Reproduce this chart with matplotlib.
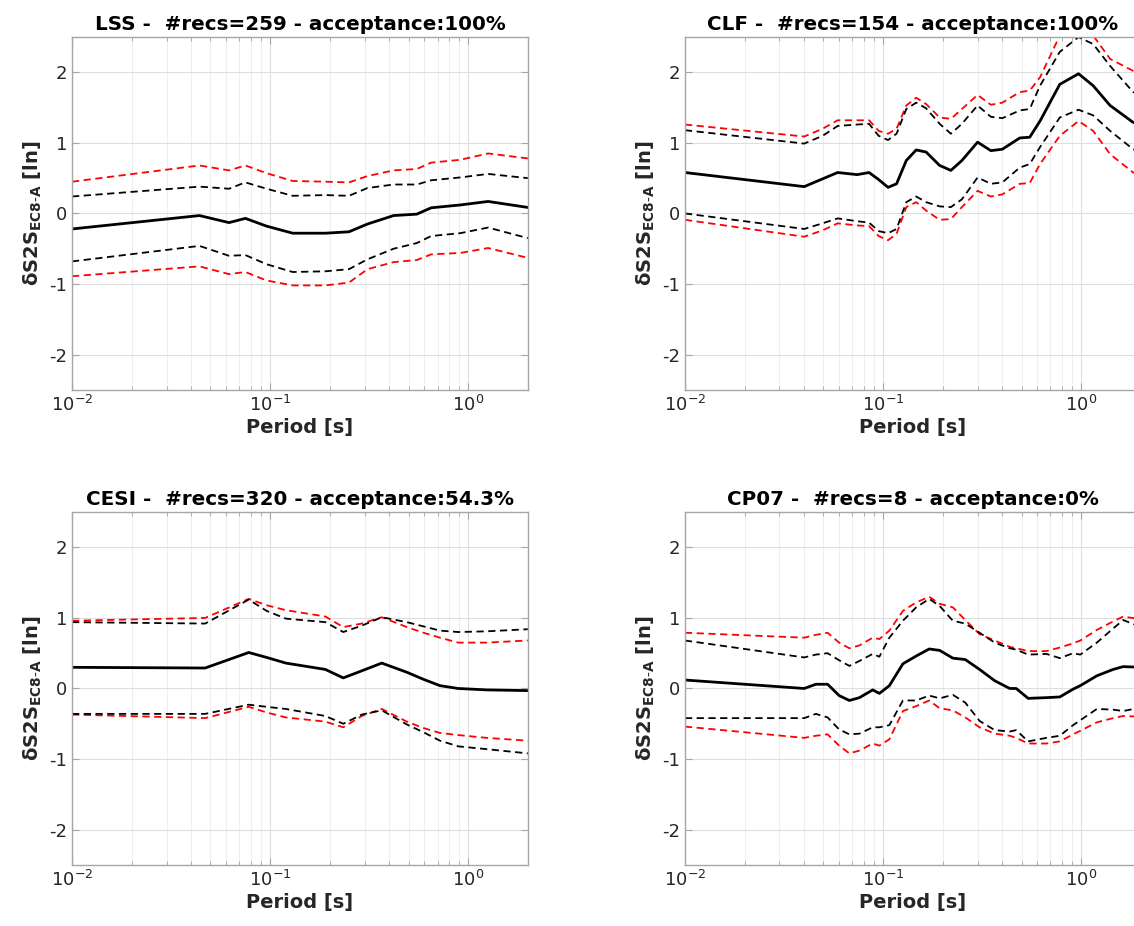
import numpy as np
import matplotlib
matplotlib.use("Agg")
import matplotlib.pyplot as plt
from matplotlib.ticker import LogLocator, NullFormatter

plt.rcParams["axes.unicode_minus"] = False

# ---- data ----
lss_T = [0.01, 0.044, 0.062, 0.075, 0.096, 0.13, 0.19, 0.25, 0.31, 0.42, 0.55, 0.65, 0.91, 1.26, 2.0]
lss_mean = [-0.22, -0.03, -0.13, -0.07, -0.18, -0.28, -0.28, -0.26, -0.15, -0.03, -0.01, 0.08, 0.12, 0.17, 0.085]
lss_up_k = [0.24, 0.38, 0.35, 0.44, 0.35, 0.25, 0.26, 0.25, 0.36, 0.41, 0.41, 0.47, 0.51, 0.56, 0.50]
lss_up_r = [0.45, 0.68, 0.61, 0.68, 0.57, 0.46, 0.45, 0.44, 0.53, 0.61, 0.63, 0.72, 0.76, 0.85, 0.78]
lss_lo_k = [-0.68, -0.46, -0.60, -0.59, -0.72, -0.83, -0.82, -0.79, -0.65, -0.50, -0.42, -0.32, -0.28, -0.20, -0.35]
lss_lo_r = [-0.89, -0.75, -0.86, -0.83, -0.95, -1.02, -1.02, -0.98, -0.79, -0.69, -0.66, -0.58, -0.56, -0.49, -0.63]

clf_T = [0.01, 0.04, 0.0495, 0.059, 0.074, 0.085, 0.095, 0.106, 0.117, 0.131, 0.147, 0.165, 0.193, 0.22,
         0.25, 0.30, 0.35, 0.40, 0.49, 0.55, 0.62, 0.78, 0.97, 1.15, 1.4, 1.83, 2.0]
clf_mean = [0.58, 0.38, 0.49, 0.58, 0.55, 0.58, 0.48, 0.37, 0.42, 0.75, 0.90, 0.87, 0.68, 0.61,
            0.75, 1.01, 0.89, 0.91, 1.07, 1.08, 1.31, 1.83, 1.98, 1.81, 1.53, 1.29, 1.27]
clf_up_k = [1.18, 0.99, 1.10, 1.24, 1.26, 1.27, 1.10, 1.04, 1.13, 1.48, 1.57, 1.49, 1.27, 1.13,
            1.27, 1.53, 1.37, 1.35, 1.46, 1.48, 1.81, 2.29, 2.50, 2.40, 2.09, 1.72, 1.68]
clf_up_r = [1.26, 1.09, 1.20, 1.32, 1.32, 1.32, 1.17, 1.13, 1.20, 1.53, 1.64, 1.55, 1.36, 1.34,
            1.48, 1.68, 1.54, 1.57, 1.72, 1.74, 1.93, 2.52, 2.72, 2.52, 2.19, 2.02, 1.98]
clf_lo_k = [0.0, -0.22, -0.14, -0.07, -0.11, -0.13, -0.25, -0.28, -0.22, 0.16, 0.24, 0.16, 0.10, 0.09,
            0.20, 0.51, 0.42, 0.44, 0.65, 0.70, 0.94, 1.36, 1.47, 1.39, 1.17, 0.91, 0.87]
clf_lo_r = [-0.09, -0.33, -0.24, -0.14, -0.17, -0.18, -0.32, -0.38, -0.29, 0.09, 0.16, 0.04, -0.09, -0.08,
            0.09, 0.32, 0.24, 0.27, 0.42, 0.43, 0.70, 1.10, 1.31, 1.17, 0.84, 0.58, 0.56]

cesi_T = [0.01, 0.047, 0.078, 0.096, 0.12, 0.19, 0.234, 0.29, 0.366, 0.49, 0.594, 0.72, 0.89, 1.24, 2.0]
cesi_mean = [0.30, 0.29, 0.51, 0.44, 0.36, 0.27, 0.15, 0.25, 0.36, 0.23, 0.13, 0.04, 0.0, -0.02, -0.03]
cesi_up_k = [0.94, 0.92, 1.26, 1.10, 0.99, 0.94, 0.80, 0.89, 1.01, 0.94, 0.88, 0.82, 0.80, 0.81, 0.84]
cesi_up_r = [0.96, 1.00, 1.27, 1.18, 1.11, 1.02, 0.87, 0.92, 1.01, 0.87, 0.79, 0.72, 0.65, 0.65, 0.68]
cesi_lo_k = [-0.36, -0.36, -0.23, -0.26, -0.29, -0.39, -0.50, -0.37, -0.31, -0.51, -0.62, -0.74, -0.82, -0.86, -0.92]
cesi_lo_r = [-0.37, -0.42, -0.26, -0.34, -0.41, -0.47, -0.55, -0.39, -0.29, -0.47, -0.56, -0.63, -0.66, -0.70, -0.74]

cp07_T = [0.01, 0.04, 0.0458, 0.0525, 0.060, 0.0676, 0.076, 0.0887, 0.0958, 0.1076, 0.126, 0.147, 0.171,
          0.193, 0.225, 0.26, 0.307, 0.366, 0.436, 0.47, 0.54, 0.668, 0.78, 0.91, 0.99, 1.2, 1.45, 1.63, 2.0]
cp07_mean = [0.12, 0.0, 0.06, 0.06, -0.10, -0.17, -0.13, -0.02, -0.07, 0.04, 0.35, 0.46, 0.56,
             0.54, 0.43, 0.41, 0.27, 0.11, 0.0, 0.0, -0.14, -0.13, -0.12, -0.01, 0.04, 0.18, 0.27, 0.31, 0.30]
cp07_up_k = [0.68, 0.44, 0.48, 0.50, 0.40, 0.32, 0.39, 0.49, 0.45, 0.72, 0.96, 1.15, 1.27,
             1.17, 0.96, 0.92, 0.79, 0.65, 0.57, 0.55, 0.48, 0.49, 0.43, 0.50, 0.48, 0.65, 0.85, 0.97, 0.87]
cp07_up_r = [0.79, 0.72, 0.76, 0.79, 0.65, 0.57, 0.61, 0.72, 0.70, 0.82, 1.10, 1.22, 1.30,
             1.20, 1.15, 0.97, 0.77, 0.68, 0.59, 0.57, 0.53, 0.53, 0.58, 0.64, 0.68, 0.83, 0.95, 1.02, 0.98]
cp07_lo_k = [-0.42, -0.42, -0.36, -0.41, -0.58, -0.65, -0.64, -0.55, -0.55, -0.52, -0.17, -0.17, -0.10,
             -0.14, -0.09, -0.20, -0.46, -0.59, -0.61, -0.59, -0.75, -0.70, -0.67, -0.52, -0.45, -0.29, -0.30, -0.32, -0.27]
cp07_lo_r = [-0.54, -0.70, -0.67, -0.65, -0.81, -0.92, -0.88, -0.78, -0.81, -0.72, -0.32, -0.25, -0.17,
             -0.28, -0.31, -0.41, -0.55, -0.64, -0.67, -0.70, -0.78, -0.78, -0.75, -0.65, -0.60, -0.48, -0.42, -0.39, -0.40]

titles = ["LSS -  #recs=259 - acceptance:100%",
          "CLF -  #recs=154 - acceptance:100%",
          "CESI -  #recs=320 - acceptance:54.3%",
          "CP07 -  #recs=8 - acceptance:0%"]

stations = [
    (lss_T, lss_mean, lss_up_k, lss_lo_k, lss_up_r, lss_lo_r),
    (clf_T, clf_mean, clf_up_k, clf_lo_k, clf_up_r, clf_lo_r),
    (cesi_T, cesi_mean, cesi_up_k, cesi_lo_k, cesi_up_r, cesi_lo_r),
    (cp07_T, cp07_mean, cp07_up_k, cp07_lo_k, cp07_up_r, cp07_lo_r),
]

# axes placement (figure fractions)
lefts = [0.0635, 0.604, 0.0635, 0.604]
bottoms = [0.579, 0.579, 0.066, 0.066]
w, h = 0.402, 0.381

fig = plt.figure(figsize=(11.34, 9.26), dpi=100)
edge = "#a6a6a6"
txt = "#262626"
dash = (0, (4, 2.5))

for i, (T, m, uk, lk, ur, lr) in enumerate(stations):
    ax = fig.add_axes([lefts[i], bottoms[i], w, h])
    ax.plot(T, ur, color="red", lw=1.3, ls=dash)
    ax.plot(T, lr, color="red", lw=1.3, ls=dash)
    ax.plot(T, uk, color="black", lw=1.3, ls=dash)
    ax.plot(T, lk, color="black", lw=1.3, ls=dash)
    ax.plot(T, m, color="black", lw=2.0)

    ax.set_xscale("log")
    ax.set_xlim(0.01, 2)
    ax.set_ylim(-2.5, 2.5)
    ax.set_yticks([-2, -1, 0, 1, 2])
    ax.xaxis.set_major_locator(LogLocator(base=10))
    ax.xaxis.set_minor_locator(LogLocator(base=10, subs=np.arange(2, 10)))
    ax.xaxis.set_minor_formatter(NullFormatter())

    ax.grid(True, which="major", color="#dedede", lw=0.8)
    ax.grid(True, which="minor", axis="x", color="#eeeeee", lw=0.8)
    ax.set_axisbelow(True)

    for s in ax.spines.values():
        s.set_color(edge)
        s.set_linewidth(1.0)
    ax.tick_params(which="both", direction="in", color=edge, labelcolor=txt, labelsize=13,
                   top=True, right=True)
    ax.tick_params(which="major", length=5)
    ax.tick_params(which="minor", length=3)

    ax.set_title(titles[i], fontsize=14.3, fontweight="bold", pad=5)
    ax.set_xlabel("Period [s]", fontsize=14, fontweight="bold", color=txt, labelpad=2)
    ax.set_ylabel(r"$\mathbf{\delta}$S2S$_{\mathbf{EC8\text{-}A}}$ [ln]", fontsize=14,
                  fontweight="bold", color=txt, labelpad=4)

fig.savefig("out.png", dpi=100)
